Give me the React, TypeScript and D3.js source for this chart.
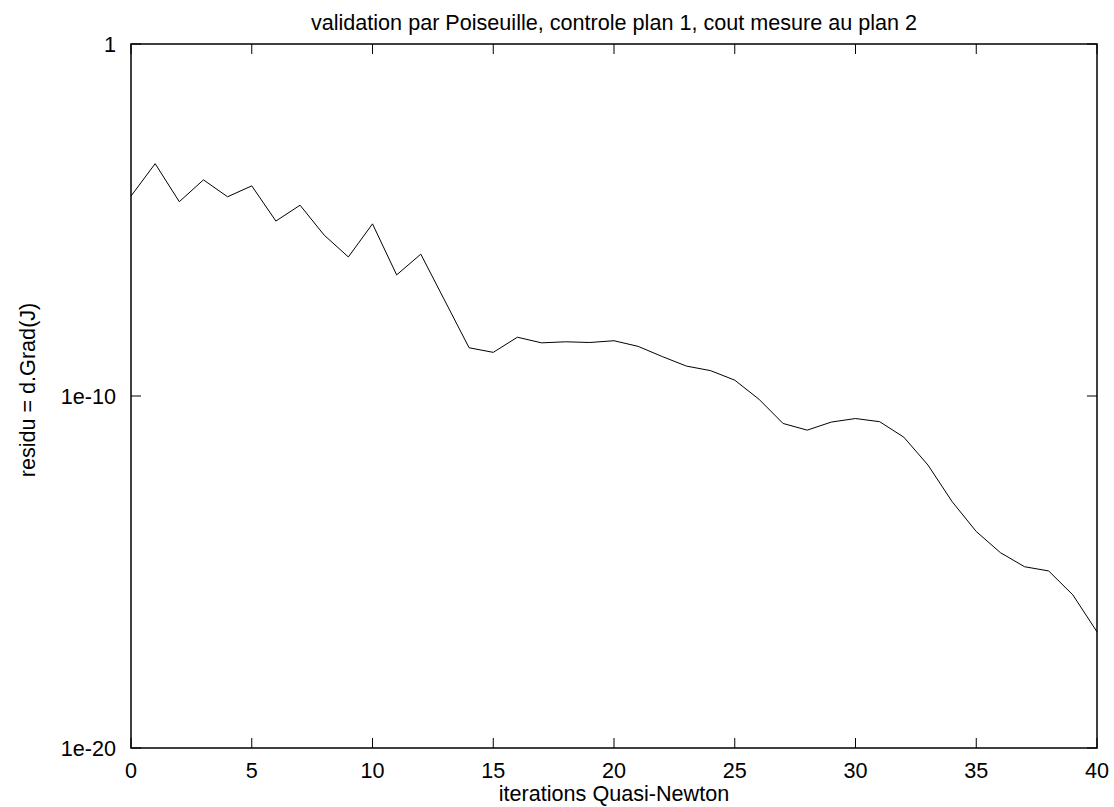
import { useEffect, useRef } from "react";
import * as d3 from "d3";

const WIDTH = 1114;
const HEIGHT = 807;
const MARGIN = { top: 44, right: 17, bottom: 59, left: 131 };
const INNER_W = WIDTH - MARGIN.left - MARGIN.right;
const INNER_H = HEIGHT - MARGIN.top - MARGIN.bottom;

const TITLE = "validation par Poiseuille, controle plan 1, cout mesure au plan 2";
const X_LABEL = "iterations Quasi-Newton";
const Y_LABEL = "residu = d.Grad(J)";

// iteration index
const iterations = [
  0, 1, 2, 3, 4, 5, 6, 7, 8, 9, 10, 11, 12, 13, 14, 15, 16, 17, 18, 19, 20,
  21, 22, 23, 24, 25, 26, 27, 28, 29, 30, 31, 32, 33, 34, 35, 36, 37, 38, 39, 40,
];
// log10 of the residual
const residuLog10 = [
  -4.32, -3.4, -4.48, -3.86, -4.34, -4.03, -5.03, -4.58, -5.43, -6.05, -5.11,
  -6.56, -5.97, -7.3, -8.63, -8.76, -8.33, -8.49, -8.46, -8.48, -8.43, -8.59,
  -8.88, -9.15, -9.28, -9.55, -10.09, -10.78, -10.97, -10.74, -10.64, -10.73,
  -11.17, -11.96, -13.0, -13.85, -14.45, -14.85, -14.97, -15.65, -16.7,
];
const xTicks = [0, 5, 10, 15, 20, 25, 30, 35, 40];
const yTicks = [1, 1e-10, 1e-20];
const yTickLabels = ["1", "1e-10", "1e-20"];

const FONT = "'Liberation Sans', Arial, sans-serif";
const FONT_SIZE = "21.6px";
const TICK = 10;

export default function App() {
  const svgRef = useRef<SVGSVGElement>(null);

  useEffect(() => {
    if (!svgRef.current) return;
    const svg = d3.select(svgRef.current);
    svg.selectAll("*").remove();

    const x = d3.scaleLinear().domain([0, 40]).range([0, INNER_W]);
    const y = d3.scaleLog().domain([1e-20, 1]).range([INNER_H, 0]);

    const points = iterations.map((it, i) => ({ it, v: Math.pow(10, residuLog10[i]) }));

    const g = svg
      .append("g")
      .attr("transform", `translate(${MARGIN.left},${MARGIN.top})`);

    // ticks on all four sides, pointing inward
    xTicks.forEach((t) => {
      const px = x(t);
      g.append("line")
        .attr("x1", px).attr("x2", px)
        .attr("y1", INNER_H).attr("y2", INNER_H - TICK)
        .attr("stroke", "#000").attr("stroke-width", 1);
      g.append("line")
        .attr("x1", px).attr("x2", px)
        .attr("y1", 0).attr("y2", TICK)
        .attr("stroke", "#000").attr("stroke-width", 1);
      g.append("text")
        .attr("x", px)
        .attr("y", INNER_H + 30)
        .attr("text-anchor", "middle")
        .style("font-family", FONT)
        .style("font-size", FONT_SIZE)
        .text(String(t));
    });

    yTicks.forEach((t, i) => {
      const py = y(t);
      g.append("line")
        .attr("x1", 0).attr("x2", TICK)
        .attr("y1", py).attr("y2", py)
        .attr("stroke", "#000").attr("stroke-width", 1);
      g.append("line")
        .attr("x1", INNER_W).attr("x2", INNER_W - TICK)
        .attr("y1", py).attr("y2", py)
        .attr("stroke", "#000").attr("stroke-width", 1);
      g.append("text")
        .attr("x", -15)
        .attr("y", py)
        .attr("dy", "0.36em")
        .attr("text-anchor", "end")
        .style("font-family", FONT)
        .style("font-size", FONT_SIZE)
        .text(yTickLabels[i]);
    });

    // data line
    g.append("path")
      .datum(points)
      .attr("fill", "none")
      .attr("stroke", "#000")
      .attr("stroke-width", 1)
      .attr(
        "d",
        d3
          .line<{ it: number; v: number }>()
          .x((d) => x(d.it))
          .y((d) => y(d.v))
      );

    // frame
    g.append("rect")
      .attr("x", 0).attr("y", 0)
      .attr("width", INNER_W).attr("height", INNER_H)
      .attr("fill", "none")
      .attr("stroke", "#000")
      .attr("stroke-width", 1.5);

    // title and axis labels
    svg.append("text")
      .attr("x", MARGIN.left + INNER_W / 2)
      .attr("y", 30)
      .attr("text-anchor", "middle")
      .style("font-family", FONT)
      .style("font-size", FONT_SIZE)
      .text(TITLE);

    svg.append("text")
      .attr("x", MARGIN.left + INNER_W / 2)
      .attr("y", 801)
      .attr("text-anchor", "middle")
      .style("font-family", FONT)
      .style("font-size", FONT_SIZE)
      .text(X_LABEL);

    svg.append("text")
      .attr("transform", `translate(35,${MARGIN.top + INNER_H / 2 - 6}) rotate(-90)`)
      .attr("text-anchor", "middle")
      .style("font-family", FONT)
      .style("font-size", FONT_SIZE)
      .text(Y_LABEL);
  }, []);

  return (
    <div style={{ position: "absolute", left: 0, top: 0, background: "#fff" }}>
      <svg ref={svgRef} width={WIDTH} height={HEIGHT} />
    </div>
  );
}
